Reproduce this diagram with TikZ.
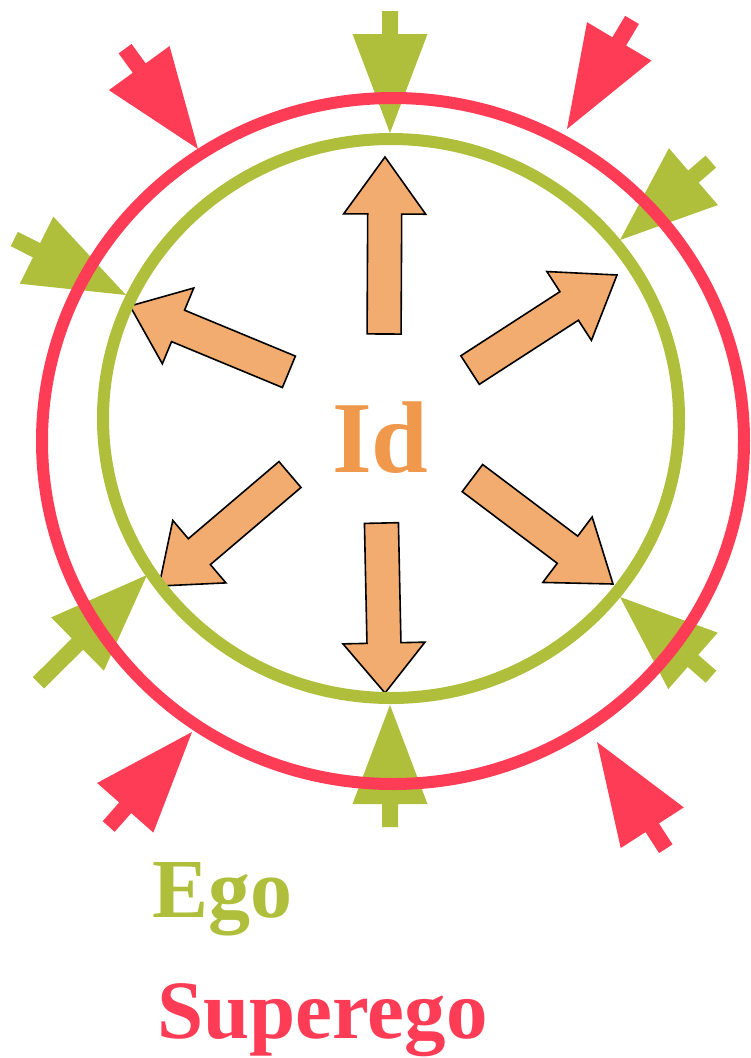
\documentclass[tikz,border=0pt]{standalone}
\usepackage{fontspec}
\setmainfont{Liberation Serif}
\definecolor{supred}{HTML}{FF3C55}
\definecolor{egogreen}{HTML}{AFBF3B}
\definecolor{idfill}{HTML}{F3AC6F}
\definecolor{idtext}{HTML}{F0994C}
% #1 style, #2 tip x, #3 tip y, #4 angle, #5 total length, #6 head length, #7 head half width, #8 shaft half width
\newcommand{\blockarrow}[8]{%
  \draw[#1, shift={(#2,#3)}, rotate=#4] (0,0) -- (-#6,#7) -- (-#6,#8) -- (-#5,#8) -- (-#5,-#8) -- (-#6,-#8) -- (-#6,-#7) -- cycle;}
\begin{document}
\begin{tikzpicture}[x=1pt,y=1pt,
  egoarrow/.style={fill=egogreen, draw=none},
  superarrow/.style={fill=supred, draw=none},
  idarrow/.style={fill=idfill, draw=black, line width=1.6pt, line join=miter},
  ring/.style={line width=12pt},
  label/.style={anchor=base west, inner sep=0pt, font=\bfseries}]
\useasboundingbox (0,0) rectangle (750,-1058);
% Ego arrows (green)
\blockarrow{egoarrow}{390}{-133}{-90}{122}{99}{37.5}{8}
\blockarrow{egoarrow}{390}{-705}{90}{122}{99}{37.5}{8}
\blockarrow{egoarrow}{126}{-295}{-26.6}{125}{100}{37.5}{8}
\blockarrow{egoarrow}{620}{-240}{-139.2}{120}{97}{37.5}{8}
\blockarrow{egoarrow}{147}{-575}{44.8}{153}{98}{37.5}{8}
\blockarrow{egoarrow}{620}{-597}{138.8}{121}{97}{37.5}{8}
% Superego arrows (red)
\blockarrow{superarrow}{198}{-149}{-54}{124}{100}{37.5}{8}
\blockarrow{superarrow}{567}{-129}{-120.8}{127}{102}{37.5}{8}
\blockarrow{superarrow}{192}{-732}{48.6}{126}{101}{37.5}{8}
\blockarrow{superarrow}{597}{-742}{122.8}{127}{102}{37.5}{8}
% Id arrows (orange)
\blockarrow{idarrow}{385}{-157}{89.7}{177}{57}{41}{17}
\blockarrow{idarrow}{385}{-693}{-88.8}{170}{50}{41}{17}
\blockarrow{idarrow}{130}{-306}{157.5}{172}{52}{41}{17}
\blockarrow{idarrow}{617}{-275}{32.9}{175}{57}{41}{17}
\blockarrow{idarrow}{159}{-586}{220.4}{172}{53}{41}{17}
\blockarrow{idarrow}{613}{-584}{-37}{176}{57}{41}{17}
% rings
\draw[ring, draw=supred] (393,-441) ellipse [x radius=351, y radius=343];
\draw[ring, draw=egogreen] (391,-418.5) ellipse [x radius=288, y radius=279.5];
% labels
\node[label, text=idtext, font=\bfseries\fontsize{102}{102}\selectfont] (id) at (332,-472) {Id};
\node[label, text=egogreen, font=\bfseries\fontsize{84}{84}\selectfont] (ego) at (152,-917) {Ego};
\node[label, text=supred, font=\bfseries\fontsize{83}{83}\selectfont] (superego) at (157,-1038) {Superego};
\end{tikzpicture}
\end{document}
